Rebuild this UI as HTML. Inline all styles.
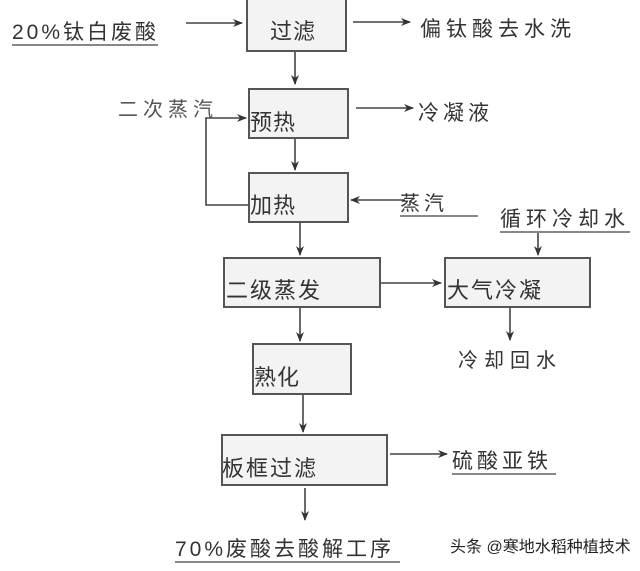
<!DOCTYPE html><html><head><meta charset="utf-8"><style>
body{margin:0;background:#fff;width:640px;height:571px;overflow:hidden;position:relative;font-family:"Liberation Sans","Noto Sans CJK SC",sans-serif;color:#333}
.b{position:absolute;background:#f3f3f3;border:2px solid #555;box-sizing:border-box}
.t{position:absolute;font-size:20px;white-space:nowrap;line-height:1;letter-spacing:4px}
.u{border-bottom:2px solid #888;padding-bottom:1px}
.n{font-size:22px;letter-spacing:1px}
svg{position:absolute;left:0;top:0}
</style></head><body>
<div class="b" style="left:246px;top:-2px;width:101px;height:54px"></div>
<div class="b" style="left:248px;top:88px;width:101px;height:51px"></div>
<div class="b" style="left:248px;top:172px;width:101px;height:51px"></div>
<div class="b" style="left:223px;top:257px;width:158px;height:51px"></div>
<div class="b" style="left:444px;top:257px;width:147px;height:51px"></div>
<div class="b" style="left:252px;top:343px;width:100px;height:52px"></div>
<div class="b" style="left:221px;top:434px;width:167px;height:52px"></div>
<svg width="640" height="571"><defs><marker id="a" markerWidth="10" markerHeight="8" refX="9" refY="4" orient="auto" markerUnits="userSpaceOnUse"><path d="M0,0L10,4L0,8L3,4z" fill="#333"/></marker></defs>
<g stroke="#444" stroke-width="1.6" fill="none" marker-end="url(#a)">
<line x1="186" y1="23" x2="242" y2="23"/>
<line x1="353" y1="22" x2="410" y2="22"/>
<line x1="295" y1="52" x2="295" y2="84"/>
<polyline points="248,205 206,205 206,118 246,118"/>
<line x1="356" y1="108" x2="413" y2="108"/>
<line x1="295" y1="139" x2="295" y2="170"/>
<line x1="405" y1="200" x2="351" y2="200"/>
<line x1="538" y1="232" x2="538" y2="255"/>
<line x1="300" y1="223" x2="300" y2="255"/>
<line x1="381" y1="283" x2="441" y2="283"/>
<line x1="510" y1="308" x2="510" y2="340"/>
<line x1="300" y1="308" x2="300" y2="341"/>
<line x1="303" y1="395" x2="303" y2="432"/>
<line x1="390" y1="454" x2="447" y2="454"/>
<line x1="305" y1="488" x2="305" y2="520"/>
</g></svg>
<div class="t u" style="left:12px;top:22px;width:146px;font-size:21px;letter-spacing:3px">20%钛白废酸</div>
<div class="t n" style="left:270px;top:21px">过滤</div>
<div class="t" style="left:420px;top:19px;font-size:21px;letter-spacing:5px">偏钛酸去水洗</div>
<div class="t" style="left:118px;top:100px;color:#555;letter-spacing:5px">二次蒸汽</div>
<div class="t n" style="left:250px;top:112px">预热</div>
<div class="t" style="left:418px;top:103px;font-size:21px">冷凝液</div>
<div class="t n" style="left:250px;top:195px">加热</div>
<div class="t u" style="left:400px;top:194px;width:78px">蒸汽</div>
<div class="t u" style="left:500px;top:209px;width:130px;font-size:21px;letter-spacing:5px">循环冷却水</div>
<div class="t n" style="left:226px;top:280px;letter-spacing:2px">二级蒸发</div>
<div class="t n" style="left:447px;top:280px;letter-spacing:2px">大气冷凝</div>
<div class="t" style="left:458px;top:351px;letter-spacing:6px">冷却回水</div>
<div class="t n" style="left:254px;top:367px">熟化</div>
<div class="t n" style="left:222px;top:458px;letter-spacing:2px">板框过滤</div>
<div class="t u" style="left:452px;top:451px;width:104px;font-size:21px">硫酸亚铁</div>
<div class="t u" style="left:175px;top:539px;width:225px;font-size:21px;letter-spacing:3px">70%废酸去酸解工序</div>
<div class="t" style="left:450px;top:540px;font-size:16px;color:#222;letter-spacing:0">头条 @寒地水稻种植技术</div>
</body></html>
